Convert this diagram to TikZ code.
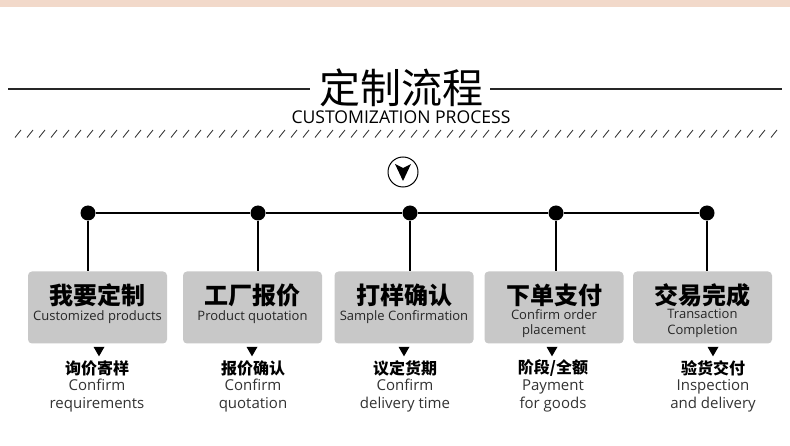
\documentclass[tikz,border=0pt]{standalone}
\usepackage{fontspec}
\setmainfont{Noto Sans}
\newfontfamily\cjk{Noto Sans CJK SC}
\newfontfamily\latn{Open Sans}
\usetikzlibrary{arrows.meta,shapes.geometric}
\definecolor{band}{HTML}{F2D9CA}
\definecolor{boxgray}{HTML}{C8C8C8}
\definecolor{txtgray}{HTML}{333333}
\tikzset{
  stepbox/.style={fill=boxgray, rounded corners=4pt, minimum width=139pt, minimum height=72pt, inner sep=0pt},
  dotnode/.style={circle, fill=black, minimum size=15pt, inner sep=0pt},
  wire/.style={line width=1.2pt, black},
  boxtitle/.style={font=\cjk\bfseries\fontsize{24}{26}\selectfont, inner sep=0pt},
  boxsub/.style={font=\latn\fontsize{13}{15.5}\selectfont, align=center, inner sep=0pt, text=black!85},
  lowtitle/.style={font=\cjk\bfseries\fontsize{16}{18}\selectfont, inner sep=0pt},
  lowsub/.style={font=\latn\fontsize{15}{18}\selectfont, align=center, inner sep=0pt, text=txtgray},
  tri/.style={isosceles triangle, isosceles triangle apex angle=60, shape border rotate=-90, fill=black, inner sep=0pt, minimum width=11pt, minimum height=8pt}
}
\begin{document}
\begin{tikzpicture}[x=1pt,y=-1pt]
\useasboundingbox (0,0) rectangle (790,446);
\fill[white] (0,0) rectangle (790,446);
\fill[band] (0,0) rectangle (790,7);
% title
\node[font=\cjk\fontsize{41}{43}\selectfont, inner sep=0pt] (title) at (401,88) {定制流程};
\node[font=\latn\fontsize{17.6}{19}\selectfont, inner sep=0pt] (subtitle) at (401,117) {CUSTOMIZATION PROCESS};
\coordinate (tl1) at (8,89); \coordinate (tl2) at (310,89);
\coordinate (tr1) at (490,89); \coordinate (tr2) at (782,89);
\draw[line width=1.5pt, black!85] (tl1) -- (tl2);
\draw[line width=1.5pt, black!85] (tr1) -- (tr2);
% hatch
\foreach \i in {0,...,63} {
  \draw[line width=0.9pt, black!75] ({15+12*\i},137.5) -- ({21+12*\i},130);
}
% circle icon
\node[circle, draw=black, line width=1pt, minimum size=30pt, inner sep=0pt] (icon) at (403,172) {};
\fill[black] (395,164) -- (403,168) -- (411,164) -- (403,181) -- cycle;
% dots
\node[dotnode] (d1) at (88,213) {};
\node[dotnode] (d2) at (258,213) {};
\node[dotnode] (d3) at (410,213) {};
\node[dotnode] (d4) at (556,213) {};
\node[dotnode] (d5) at (707,213) {};
\draw[wire] (d1) -- (d2) -- (d3) -- (d4) -- (d5);
% boxes
\node[stepbox] (b1) at (97.5,307.5) {};
\node[stepbox] (b2) at (252.5,307.5) {};
\node[stepbox] (b3) at (404,307.5) {};
\node[stepbox] (b4) at (554,307.5) {};
\node[stepbox] (b5) at (702.5,307.5) {};
\foreach \d/\x in {d1/88,d2/258,d3/410,d4/556,d5/707} {
  \coordinate (\d b) at (\x,271.5);
  \draw[wire] (\d) -- (\d b);
}
% box texts
\node[boxtitle] (t1) at (97.5,295) {我要定制};
\node[boxtitle] (t2) at (252.5,295) {工厂报价};
\node[boxtitle] (t3) at (404,295) {打样确认};
\node[boxtitle] (t4) at (554,295) {下单支付};
\node[boxtitle] (t5) at (702.5,295) {交易完成};
\node[boxsub] (s1) at (97.5,317) {Customized products};
\node[boxsub] (s2) at (252.5,317) {Product quotation};
\node[boxsub] (s3) at (404,317) {Sample Confirmation};
\node[boxsub] (s4) at (554,323.5) {Confirm order\\placement};
\node[boxsub] (s5) at (702.5,323.5) {Transaction\\Completion};
% triangles
\node[tri] (g1) at (99,350) {};
\node[tri] (g2) at (252,350) {};
\node[tri] (g3) at (404,350) {};
\node[tri] (g4) at (552,350) {};
\node[tri] (g5) at (713,350) {};
% lower texts
\node[lowtitle] (l1) at (97,368) {询价寄样};
\node[lowtitle] (l2) at (253,368) {报价确认};
\node[lowtitle] (l3) at (405,368) {议定货期};
\node[lowtitle] (l4) at (553,368) {阶段/全额};
\node[lowtitle] (l5) at (713,368) {验货交付};
\node[lowsub] (m1) at (97,396) {Confirm\\requirements};
\node[lowsub] (m2) at (253,396) {Confirm\\quotation};
\node[lowsub] (m3) at (405,396) {Confirm\\delivery time};
\node[lowsub] (m4) at (553,396) {Payment\\for goods};
\node[lowsub] (m5) at (713,396) {Inspection\\and delivery};
\end{tikzpicture}
\end{document}
